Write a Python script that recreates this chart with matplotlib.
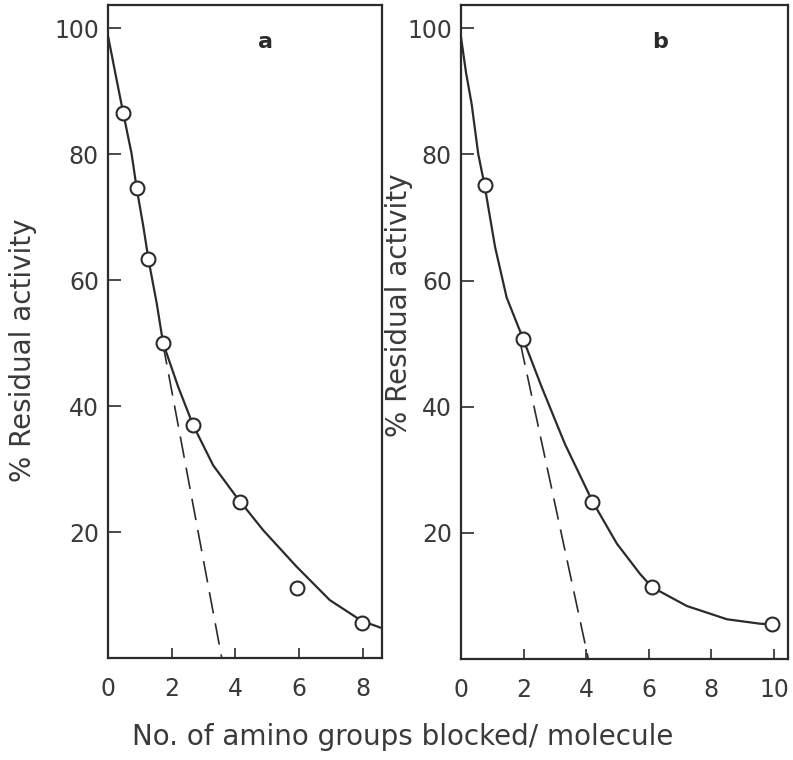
import numpy as np
import matplotlib
matplotlib.use('Agg')
import matplotlib.pyplot as plt

# panel a : measured points
xa = [0.47, 0.9, 1.27, 1.72, 2.66, 4.14, 5.93, 7.96]
ya = [86.5, 74.6, 63.3, 50.0, 37.0, 24.8, 11.1, 5.5]
# hand drawn curve
curve_xa = [0.0, 0.24, 0.48, 0.74, 0.9, 1.11, 1.27, 1.53, 1.73, 2.2, 2.67,
            3.3, 4.0, 4.87, 5.92, 6.96, 7.96, 8.62]
curve_ya = [98.8, 92.6, 86.5, 80.1, 74.6, 68.5, 63.3, 56.3, 50.0, 43.1, 37.0,
            30.6, 25.8, 20.3, 14.5, 9.2, 5.9, 4.7]
dash_xa = [1.72, 3.57]
dash_ya = [50.0, 0.0]

# panel b
xb = [0.77, 1.99, 4.2, 6.1, 9.94]
yb = [75.1, 50.7, 24.9, 11.4, 5.5]
curve_xb = [0.0, 0.16, 0.34, 0.55, 0.75, 1.09, 1.46, 1.99, 2.58, 3.32, 4.2,
            4.98, 5.72, 6.1, 7.22, 8.5, 9.55, 9.94]
curve_yb = [98.6, 93.0, 88.0, 80.1, 75.2, 65.3, 57.3, 50.7, 43.1, 34.1, 25.0,
            18.3, 13.5, 11.4, 8.4, 6.3, 5.6, 5.5]
dash_xb = [1.9, 4.07]
dash_yb = [50.0, 0.0]

yticks = [20, 40, 60, 80, 100]
xticks_a = [0, 2, 4, 6, 8]
xticks_b = [0, 2, 4, 6, 8, 10]

ink = '#2b2b2b'
txt = '#3a3a3a'

fig = plt.figure(figsize=(7.93, 7.6), dpi=100)
W, H = 793.0, 760.0
ax_a = fig.add_axes([108/W, 102/H, 274/W, 653/H])
ax_b = fig.add_axes([461/W, 101/H, 327/W, 654/H])


def style(ax, xmax, xticks):
    ax.set_xlim(0, xmax)
    ax.set_ylim(0, 103.7)
    ax.set_xticks(xticks)
    ax.set_yticks(yticks)
    for s in ax.spines.values():
        s.set_linewidth(1.6)
        s.set_color(ink)
    ax.tick_params(axis='y', direction='in', length=9.5, width=1.2, color=ink,
                   labelsize=17, labelcolor=txt, pad=6.5)
    ax.tick_params(axis='x', direction='in', length=7.5, width=1.2, color=ink,
                   labelsize=17, labelcolor=txt, pad=14)
    ax.set_ylabel('% Residual activity', fontsize=20, color=txt)


style(ax_a, 8.6, xticks_a)
style(ax_b, 10.45, xticks_b)

ax_a.plot(curve_xa, curve_ya, '-', color=ink, lw=1.6, zorder=2)
ax_a.plot(dash_xa, dash_ya, '--', color=ink, lw=1.2, dashes=(13, 6), zorder=2)
ax_a.plot(xa, ya, 'o', ms=10, mfc='white', mec=ink, mew=1.5, zorder=3)

ax_b.plot(curve_xb, curve_yb, '-', color=ink, lw=1.6, zorder=2)
ax_b.plot(dash_xb, dash_yb, '--', color=ink, lw=1.2, dashes=(13, 6), zorder=2)
ax_b.plot(xb, yb, 'o', ms=10, mfc='white', mec=ink, mew=1.5, zorder=3)

ax_a.text(0.573, 0.943, 'a', transform=ax_a.transAxes, fontsize=16,
          fontweight='bold', color=ink, ha='center', va='center')
ax_b.text(0.609, 0.943, 'b', transform=ax_b.transAxes, fontsize=16,
          fontweight='bold', color=ink, ha='center', va='center')

ax_a.yaxis.set_label_coords(-0.26, 0.472)
ax_b.yaxis.set_label_coords(-0.148, 0.541)

fig.text(403/W, 1 - 737/H, 'No. of amino groups blocked/ molecule',
         fontsize=20, color=txt, ha='center', va='center')

fig.savefig('out.png', dpi=100)
